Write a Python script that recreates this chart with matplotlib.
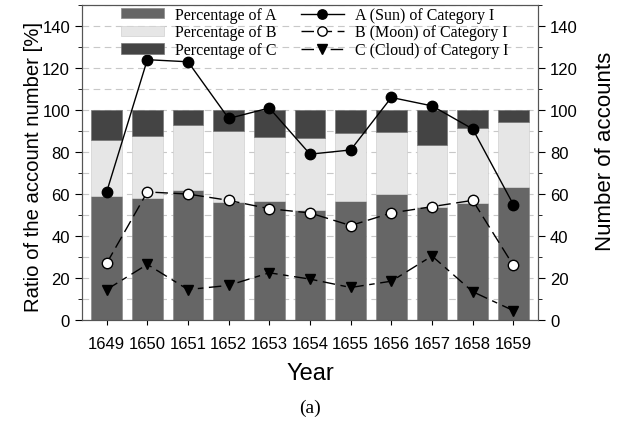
import numpy as np
import matplotlib
matplotlib.use("Agg")
import matplotlib.pyplot as plt
from matplotlib.ticker import MultipleLocator

plt.rcParams["font.family"] = ["Liberation Sans", "DejaVu Sans"]

years = ["1649", "1650", "1651", "1652", "1653", "1654",
         "1655", "1656", "1657", "1658", "1659"]

# stacked percentages (A + B + C = 100)
pct_a = [59, 58, 62, 56, 56.7, 52.4, 56.7, 60, 54, 55.7, 63.5]
pct_ab = [85.6, 87.5, 92.7, 90.2, 87, 86.7, 88.9, 89.5, 83.6, 91.4, 94.4]
pct_b = [ab - a for a, ab in zip(pct_a, pct_ab)]
pct_c = [100 - ab for ab in pct_ab]

# account counts of category I
sun = [61, 124, 123, 96, 101, 79, 81, 106, 102, 91, 55]
moon = [27, 61, 60, 57, 53, 51, 45, 51, 54, 57, 26]
cloud = [14.5, 26.5, 14.5, 16.5, 22.5, 19.5, 15.5, 18.5, 30.5, 13.5, 4.5]

x = np.arange(len(years))

fig = plt.figure(figsize=(6.2, 4.35), dpi=100)
ax = fig.add_axes([0.132, 0.262, 0.736, 0.724])

ax.set_axisbelow(True)
ax.yaxis.grid(True, which="both", linestyle=(0, (6, 4)), color="#c8c8c8", linewidth=0.8)

w = 0.76
b1 = ax.bar(x, pct_a, w, color="#666666", edgecolor="#8a8a8a", linewidth=0.5, label="Percentage of A")
b2 = ax.bar(x, pct_b, w, bottom=pct_a, color="#e6e6e6", edgecolor="#d0d0d0", linewidth=0.5, label="Percentage of B")
b3 = ax.bar(x, pct_c, w, bottom=pct_ab, color="#444444", edgecolor="#777777", linewidth=0.5, label="Percentage of C")

ax.set_xlim(-0.61, 10.61)
ax.set_ylim(0, 150)
ax.set_xticks(x)
ax.set_xticklabels(years)
ax.yaxis.set_major_locator(MultipleLocator(20))
ax.yaxis.set_minor_locator(MultipleLocator(10))
ax.tick_params(axis="both", which="both", direction="out", labelsize=12)
ax.tick_params(axis="x", pad=8)
ax.tick_params(axis="y", which="major", length=5)
ax.tick_params(axis="y", which="minor", length=3)
ax.set_xlabel("Year", fontsize=17, labelpad=8)
ax.set_ylabel("Ratio of the account number [%]", fontsize=14.6)
ax.yaxis.set_label_coords(-0.086, 0.49)

ax2 = ax.twinx()
ax2.set_ylim(0, 150)
ax2.yaxis.set_major_locator(MultipleLocator(20))
ax2.yaxis.set_minor_locator(MultipleLocator(10))
ax2.tick_params(axis="y", which="both", direction="out", labelsize=12)
ax2.tick_params(axis="y", which="major", length=5)
ax2.tick_params(axis="y", which="minor", length=3)
ax2.set_ylabel("Number of accounts", fontsize=16)
ax2.yaxis.set_label_coords(1.125, 0.54)

l1, = ax2.plot(x, sun, "-o", color="black", markersize=7.5, linewidth=1,
               label="A (Sun) of Category I")
l2, = ax2.plot(x, moon, "o", linestyle=(0, (9, 4)), color="black", markerfacecolor="white",
               markeredgecolor="black", markersize=7.5, linewidth=1,
               label="B (Moon) of Category I")
l3, = ax2.plot(x, cloud, "v", linestyle=(0, (9, 4, 4, 4)), color="black", markersize=7.5,
               linewidth=1, label="C (Cloud) of Category I")

for a in (ax, ax2):
    for s in a.spines.values():
        s.set_color("#555555")

ax2.legend([b1, b2, b3, l1, l2, l3],
           [h.get_label() for h in (b1, b2, b3, l1, l2, l3)],
           ncol=2, frameon=False, loc="upper center", bbox_to_anchor=(0.51, 1.04),
           prop={"family": "Liberation Serif", "size": 11.5},
           handlelength=2.7, handleheight=0.6, columnspacing=1.5, labelspacing=0.1,
           handletextpad=0.7, markerscale=0.9)

fig.text(0.5, 0.062, "(a)", ha="center", va="center",
         fontfamily="Liberation Serif", fontsize=14)

fig.savefig("out.png", dpi=100)
